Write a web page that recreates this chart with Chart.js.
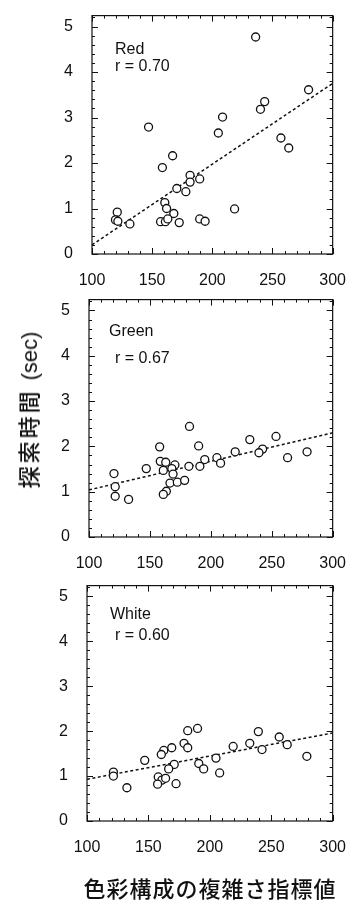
<!DOCTYPE html>
<html>
<head>
<meta charset="utf-8">
<script src="https://cdn.jsdelivr.net/npm/chart.js@4"></script>
<style>
  body { margin: 0; background: #fff; width: 355px; height: 902px; position: relative; overflow: hidden; }
  canvas { position: absolute; left: 0; }
  .title { position: absolute; white-space: nowrap; color: #111; font-family: 'Noto Sans CJK JP', sans-serif; font-weight: 500; }
  .title .lat { font-family: 'Liberation Sans', Arial, sans-serif; font-weight: normal; letter-spacing: 0; }
  #ytitle { left: 27px; top: 410px; font-size: 22px; letter-spacing: 3px; transform: translate(-50%, -50%) rotate(-90deg); }
  #xtitle { left: 210px; top: 887px; font-size: 22px; letter-spacing: 1px; transform: translate(-50%, -50%); }
</style>
</head>
<body>
<canvas id="red"></canvas>
<canvas id="green"></canvas>
<canvas id="white"></canvas>
<div class="title" id="ytitle">探索時間 <span class="lat">(sec)</span></div>
<div class="title" id="xtitle">色彩構成の複雑さ指標値</div>

<script>
// data (x = complexity index, y = search time in sec)
const redX = [236, 280, 243.5, 240, 208.5, 205, 147, 257, 263.5, 167, 158.5, 181.5, 181.5, 189.5, 170.5,
              178, 160.5, 162, 168, 218.5, 121, 119.5, 121.5, 131.5, 157, 161, 163, 172.5, 189.5, 194];
const redY = [4.77, 3.61, 3.35, 3.18, 3.01, 2.66, 2.79, 2.55, 2.33, 2.16, 1.90, 1.73, 1.58, 1.65, 1.44,
              1.37, 1.13, 1.00, 0.89, 0.99, 0.92, 0.75, 0.72, 0.66, 0.71, 0.71, 0.77, 0.69, 0.77, 0.72];

const greenX = [182.5, 253.5, 232, 158, 190, 242.5, 239.5, 279, 220, 205, 263, 195, 208, 158.5, 163, 170.5,
                182, 191, 147, 161, 168, 169, 120.5, 121.5, 121.5, 132.5, 166.5, 172.5, 178.5, 163.5, 161];
const greenY = [2.44, 2.22, 2.15, 1.99, 2.01, 1.94, 1.86, 1.88, 1.88, 1.75, 1.75, 1.71, 1.63, 1.67, 1.65, 1.59,
                1.56, 1.56, 1.51, 1.47, 1.51, 1.39, 1.40, 1.11, 0.90, 0.83, 1.19, 1.21, 1.25, 1.01, 0.94];

const whiteX = [190, 182, 239.5, 256.5, 179, 232.5, 263, 169, 182, 219, 242.5, 162.5, 160.5, 205, 279,
                147, 191, 171, 166.5, 195, 208, 121.5, 121.5, 158, 161, 164, 157.5, 172.5, 132.5];
const whiteY = [2.06, 2.01, 1.99, 1.87, 1.73, 1.73, 1.70, 1.63, 1.63, 1.66, 1.59, 1.57, 1.48, 1.40, 1.44,
                1.35, 1.28, 1.26, 1.16, 1.16, 1.07, 1.09, 1.00, 0.98, 0.91, 0.95, 0.82, 0.83, 0.74];

// regression lines, value at each end of the x range
const fitX = [100, 300];
const redFit = [0.2, 3.75];
const greenFit = [1.04, 2.30];
const whiteFit = [0.93, 1.96];

const panelNames = ['Red', 'Green', 'White'];
const rLabels = ['r = 0.70', 'r = 0.67', 'r = 0.60'];
const xTickLabels = [100, 150, 200, 250, 300];
const yTickLabels = [0, 1, 2, 3, 4, 5];

const tickFont = { family: "'Liberation Sans', Arial, sans-serif", size: 16 };
const ink = '#111';

// box frame + inward ticks on all four sides + panel caption
const frame = {
  id: 'frame',
  afterDraw(chart, args, opts) {
    const { ctx, chartArea: a, scales } = chart;
    ctx.save();
    ctx.strokeStyle = ink;
    ctx.lineWidth = 1.2;
    ctx.strokeRect(a.left, a.top, a.right - a.left, a.bottom - a.top);

    ctx.lineWidth = 1;
    ctx.beginPath();
    scales.x.ticks.forEach(t => {
      const px = Math.round(scales.x.getPixelForValue(t.value)) + 0.5;
      const len = xTickLabels.includes(t.value) ? 6 : 3;
      ctx.moveTo(px, a.bottom); ctx.lineTo(px, a.bottom - len);
      ctx.moveTo(px, a.top); ctx.lineTo(px, a.top + len);
    });
    scales.y.ticks.forEach(t => {
      const py = Math.round(scales.y.getPixelForValue(t.value)) + 0.5;
      const major = yTickLabels.some(v => Math.abs(v - t.value) < 1e-6);
      const len = major ? 6 : 3;
      ctx.moveTo(a.left, py); ctx.lineTo(a.left + len, py);
      ctx.moveTo(a.right, py); ctx.lineTo(a.right - len, py);
    });
    ctx.stroke();

    ctx.fillStyle = ink;
    ctx.font = '16px ' + tickFont.family;
    ctx.textBaseline = 'alphabetic';
    ctx.textAlign = 'left';
    ctx.fillText(opts.name, a.left + opts.nx, a.top + opts.ny);
    ctx.fillText(opts.r, a.left + opts.rx, a.top + opts.ry);
    ctx.restore();
  }
};

function makePanel(id, box, xs, ys, fit, caption) {
  const canvas = document.getElementById(id);
  const padTop = 10, xAxisH = 42;
  canvas.width = 355;
  canvas.height = box.bottom - box.top + padTop + xAxisH;
  canvas.style.top = (box.top - padTop) + 'px';

  new Chart(canvas, {
    type: 'scatter',
    data: {
      datasets: [
        {
          type: 'line',
          data: fitX.map((x, i) => ({ x: x, y: fit[i] })),
          borderColor: ink,
          borderWidth: 1.5,
          borderDash: [3, 2.5],
          pointRadius: 0,
          fill: false,
          order: 2
        },
        {
          data: xs.map((x, i) => ({ x: x, y: ys[i] })),
          pointRadius: 4,
          pointBorderWidth: 1.3,
          pointBackgroundColor: '#fff',
          pointBorderColor: ink,
          order: 1
        }
      ]
    },
    options: {
      responsive: false,
      animation: false,
      devicePixelRatio: 1,
      layout: { padding: { top: padTop, left: 0, right: 355 - box.right, bottom: 0 } },
      plugins: {
        legend: { display: false },
        tooltip: { enabled: false },
        frame: caption
      },
      scales: {
        x: {
          type: 'linear', min: 100, max: 300,
          grid: { display: false }, border: { display: false },
          ticks: {
            stepSize: 10, autoSkip: false, maxRotation: 0, includeBounds: false,
            padding: 9, color: ink, font: tickFont,
            callback: v => xTickLabels.includes(v) ? String(v) : ''
          },
          afterFit: s => { s.height = xAxisH; }
        },
        y: {
          type: 'linear', min: 0, max: 5.24,
          grid: { display: false }, border: { display: false },
          ticks: {
            stepSize: 0.2, autoSkip: false, includeBounds: false,
            padding: 11, color: ink, font: tickFont,
            callback: v => {
              const k = yTickLabels.find(n => Math.abs(n - v) < 1e-6);
              return k === undefined ? '' : String(k);
            }
          },
          afterFit: s => { s.width = box.left; }
        }
      }
    },
    plugins: [frame]
  });
}

makePanel('red',   { left: 92, right: 337, top: 5,   bottom: 254 }, redX, redY, redFit,
  { name: panelNames[0], r: rLabels[0], nx: 23, ny: 38, rx: 23, ry: 55 });
makePanel('green', { left: 89, right: 335, top: 289, bottom: 537 }, greenX, greenY, greenFit,
  { name: panelNames[1], r: rLabels[1], nx: 20, ny: 36, rx: 26, ry: 63 });
makePanel('white', { left: 87, right: 333, top: 575, bottom: 821 }, whiteX, whiteY, whiteFit,
  { name: panelNames[2], r: rLabels[2], nx: 23, ny: 33, rx: 28, ry: 54 });
</script>
</body>
</html>
